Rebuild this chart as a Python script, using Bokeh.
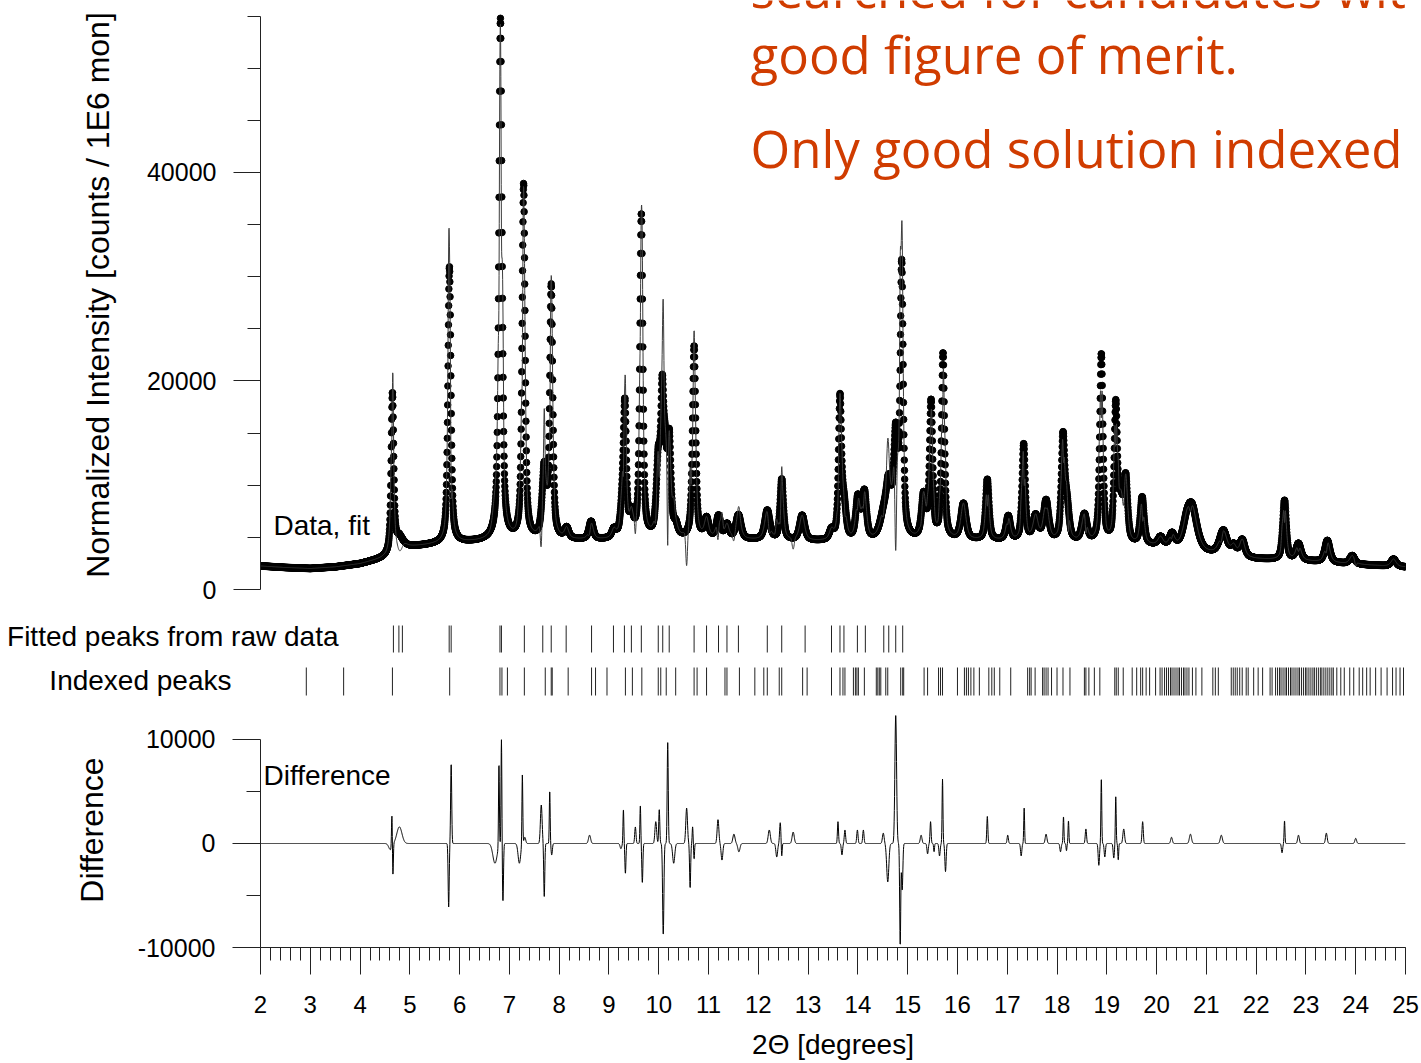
import numpy as np
from bokeh.plotting import figure
from bokeh.models import Range1d, FixedTicker, Label
from bokeh.layouts import column, row
from bokeh.embed import file_html
from bokeh.resources import INLINE

# ---------------- data ----------------
two_theta_start, two_theta_end, two_theta_step = 2.0, 25.0, 0.004

# background level (counts) under the pattern
bg_x = [2.0, 2.5, 3.0, 3.5, 4.0, 4.4, 4.6, 4.9, 5.5, 6.2, 6.6, 7.0, 8.0, 9.0, 10.0, 11.0,
        12.0, 13.0, 14.0, 15.0, 16.0, 17.0, 18.0, 19.0, 20.0, 20.5, 21.0, 22.0, 23.0, 24.0, 25.0]
bg_y = [2250, 2100, 2000, 2150, 2450, 2900, 3200, 4000, 4300, 4500, 4600, 4600, 4700, 4700, 4700, 4800,
        4700, 4600, 4500, 4600, 4700, 4600, 4500, 4300, 4100, 3800, 3400, 2900, 2700, 2400, 2150]

# observed reflections: position (deg), height above background, FWHM (deg)
peak_pos = [4.65, 4.78, 5.795, 6.82, 7.285, 7.70, 7.84, 8.15, 8.64, 9.10, 9.27, 9.32, 9.45, 9.65,
            9.99, 10.07, 10.13, 10.21, 10.34, 10.71, 10.96, 11.20, 11.37, 11.60, 12.18, 12.47,
            12.88, 13.47, 13.64, 13.72, 14.00, 14.13, 14.52, 14.62, 14.76, 14.88, 15.32, 15.47,
            15.71, 16.12, 16.60, 17.02, 17.33, 17.57, 17.78, 18.12, 18.20, 18.55, 18.89, 19.18,
            19.28, 19.38, 19.71, 20.08, 20.31, 20.60, 20.71, 21.34, 21.55, 21.72, 22.57, 22.85,
            23.43, 23.93, 24.76]
peak_height = [15200, 1200, 26500, 50000, 34000, 6500, 24000, 1000, 1700, 800, 2700, 12000, 2000, 31000,
               7000, 12400, 6500, 9000, 1000, 18400, 1800, 2100, 1300, 2300, 2800, 5800,
               2400, 900, 13300, 3200, 4000, 4500, 2200, 4500, 9500, 25800, 4000, 13000,
               17700, 3400, 5800, 2300, 9200, 2300, 3800, 9700, 3200, 2600, 18000, 13000,
               3500, 6000, 4500, 800, 1200, 1500, 4000, 2300, 900, 1600, 5700, 1600,
               2100, 800, 700]
peak_fwhm = [0.06, 0.18, 0.07, 0.075, 0.07, 0.1, 0.07, 0.1, 0.1, 0.1, 0.09, 0.07, 0.09, 0.07,
             0.09, 0.07, 0.075, 0.08, 0.1, 0.075, 0.1, 0.1, 0.1, 0.12, 0.12, 0.08,
             0.12, 0.1, 0.07, 0.1, 0.1, 0.1, 0.18, 0.12, 0.1, 0.07, 0.1, 0.075,
             0.07, 0.12, 0.08, 0.1, 0.075, 0.12, 0.12, 0.08, 0.1, 0.12, 0.075, 0.075,
             0.1, 0.09, 0.09, 0.12, 0.12, 0.18, 0.24, 0.18, 0.12, 0.12, 0.085, 0.12,
             0.12, 0.12, 0.12]

# difference (obs - calc) features: position, amplitude, FWHM
diff_pos = [4.61, 4.64, 4.66, 4.79, 5.78, 5.83, 6.71, 6.79, 6.84, 6.87, 7.20, 7.26, 7.31, 7.64,
            7.70, 7.81, 7.85, 8.61, 9.24, 9.29, 9.33, 9.53, 9.63, 9.67, 9.94, 10.01, 10.09,
            10.18, 10.30, 10.56, 10.63, 10.68, 10.71, 11.19, 11.27, 11.51, 11.61, 12.22, 12.37,
            12.44, 12.47, 12.70, 13.60, 13.68, 13.74, 13.99, 14.11, 14.51, 14.60, 14.76, 14.85,
            14.89, 15.27, 15.40, 15.46, 15.53, 15.64, 15.70, 15.76, 16.60, 17.01, 17.28, 17.34,
            17.78, 18.07, 18.13, 18.19, 18.23, 18.58, 18.84, 18.89, 18.96, 19.14, 19.18, 19.23,
            19.34, 19.72, 20.30, 20.68, 21.30, 22.52, 22.57, 22.85, 23.41, 24.00]
diff_amp = [-600, 3200, -3000, 1600, -6100, 7700, -1900, 8000, 10100, -5600, -1900, 6700, 600, 3700,
            -5100, 5100, -1100, 800, -500, 3300, -2900, 1600, 3700, -3800, 2100, 3300, -8800,
            9700, -1900, 3400, -4300, 1600, -1500, 2300, -1600, 900, -800, 1300, -1300,
            2000, -1300, 1100, 2100, -1100, 1300, 1300, 1300, 1000, -3700, 12300, -9800,
            -4500, 800, -1000, 2100, -800, -1200, 6200, -2700, 2600, 800, -1200, 3400,
            900, -800, 2600, -700, 2200, 1400, -2100, 6300, -1300, -1400, 4500, -1600,
            1400, 2100, 600, 900, 800, -900, 2200, 800, 1000, 500]
diff_fwhm = [0.08, 0.02, 0.02, 0.12, 0.025, 0.025, 0.1, 0.02, 0.02, 0.025, 0.06, 0.02, 0.04, 0.04,
             0.025, 0.02, 0.03, 0.05, 0.04, 0.02, 0.025, 0.03, 0.02, 0.025, 0.04, 0.025, 0.03,
             0.025, 0.05, 0.04, 0.025, 0.02, 0.02, 0.04, 0.04, 0.05, 0.05, 0.05, 0.04,
             0.03, 0.02, 0.05, 0.025, 0.03, 0.03, 0.03, 0.03, 0.04, 0.05, 0.04, 0.025,
             0.03, 0.04, 0.03, 0.025, 0.02, 0.03, 0.02, 0.03, 0.025, 0.03, 0.03, 0.02,
             0.04, 0.03, 0.02, 0.02, 0.02, 0.03, 0.03, 0.02, 0.03, 0.03, 0.02, 0.02,
             0.04, 0.03, 0.04, 0.05, 0.05, 0.03, 0.02, 0.04, 0.04, 0.04]

fitted_peaks = [4.67, 4.78, 4.85, 5.79, 5.83, 6.81, 6.84, 7.30, 7.67, 7.84, 8.14, 8.65, 9.09, 9.31,
                9.45, 9.65, 9.99, 10.08, 10.21, 10.71, 10.96, 11.20, 11.37, 11.60, 12.18, 12.47,
                12.94, 13.47, 13.64, 13.72, 13.99, 14.15, 14.52, 14.62, 14.76, 14.90]

indexed_peaks = [2.92, 3.67, 4.65, 5.80, 6.81, 6.85, 6.96, 7.30, 7.72, 7.84, 7.86, 8.18, 8.65, 8.73,
                 8.96, 9.33, 9.47, 9.66, 9.99, 10.04, 10.15, 10.34, 10.71, 10.77, 10.96, 11.33, 11.37,
                 11.62, 11.93, 12.11, 12.18, 12.42, 12.47, 12.89, 12.98, 13.47, 13.64, 13.70, 13.74,
                 13.91, 13.95, 13.98, 14.01, 14.13, 14.37, 14.40, 14.43, 14.46, 14.56, 14.60, 14.86,
                 14.90, 14.92, 15.33, 15.40, 15.62, 15.66, 15.70, 16.00, 16.14, 16.18, 16.22, 16.27,
                 16.33, 16.44, 16.63, 16.69, 16.74, 16.85, 17.07, 17.41, 17.45, 17.48, 17.56, 17.71,
                 17.74, 17.78, 17.82, 17.89, 18.00, 18.12, 18.26, 18.55, 18.58, 18.64, 18.75, 18.86,
                 19.16, 19.19, 19.23, 19.33, 19.51, 19.60, 19.68, 19.72, 19.79, 19.86, 19.98, 20.07,
                 20.11, 20.16, 20.20, 20.24, 20.28, 20.31, 20.35, 20.39, 20.43, 20.46, 20.50, 20.54,
                 20.57, 20.61, 20.65, 20.72, 20.79, 20.91, 21.13, 21.18, 21.24, 21.50, 21.54, 21.58,
                 21.62, 21.67, 21.72, 21.80, 21.84, 21.95, 22.04, 22.13, 22.28, 22.32, 22.39, 22.43,
                 22.47, 22.50, 22.54, 22.58, 22.61, 22.65, 22.69, 22.72, 22.76, 22.80, 22.84, 22.87,
                 22.91, 22.95, 22.99, 23.02, 23.06, 23.10, 23.14, 23.17, 23.21, 23.25, 23.29, 23.32,
                 23.36, 23.40, 23.44, 23.48, 23.52, 23.55, 23.62, 23.70, 23.77, 23.88, 23.96, 24.07,
                 24.14, 24.22, 24.29, 24.40, 24.51, 24.63, 24.74, 24.81, 24.89, 24.96]

x_ticks = list(range(2, 26))
intensity_ticks = [0, 20000, 40000]
diff_ticks = [-10000, 0, 10000]

note_lines = ["searched for candidates with", "good figure of merit.", "Only good solution indexed"]

# ---------------- build profiles ----------------
tt = np.round(np.arange(two_theta_start, two_theta_end + 1e-9, two_theta_step), 4)
bg = np.interp(tt, bg_x, bg_y)


def pseudo_voigt(x, x0, h, w, eta=0.6):
    d = ((x - x0) / w) ** 2
    return h * (eta / (1.0 + 4.0 * d) + (1.0 - eta) * np.exp(-4.0 * np.log(2.0) * d))


obs = bg.copy()
for p0, h0, w0 in zip(peak_pos, peak_height, peak_fwhm):
    obs += pseudo_voigt(tt, p0, h0, w0)

diff = np.zeros_like(tt)
for p0, a0, w0 in zip(diff_pos, diff_amp, diff_fwhm):
    diff += pseudo_voigt(tt, p0, a0, w0, eta=0.0)

calc = obs - diff

# ---------------- styling helpers ----------------
FONT = "Liberation Sans"
PX_PER_DEG = 1145.0 / 23.0
Y_PER_PX = 55000.0 / 573.5


def style_axis(ax):
    ax.axis_line_color = "#222222"
    ax.major_tick_line_color = "#222222"
    ax.minor_tick_line_color = "#222222"
    ax.major_tick_in = 0
    ax.minor_tick_in = 0
    ax.major_label_text_font = FONT
    ax.major_label_text_font_size = "25px"
    ax.major_label_text_color = "black"
    ax.axis_label_text_font = FONT
    ax.axis_label_text_font_style = "normal"
    ax.axis_label_text_color = "black"


# ---------------- top panel: data + fit ----------------
top = figure(width=1421, height=605, x_range=Range1d(2, 25),
             y_range=Range1d(0, 589 * Y_PER_PX),
             output_backend="svg", toolbar_location=None, x_axis_location=None,
             min_border_left=260, min_border_right=16, min_border_top=0, min_border_bottom=16)
top.outline_line_color = None
top.grid.visible = False

top.scatter(tt, obs, size=6.5, color="black")
top.line(tt, calc, line_color="#3c3c3c", line_width=1)

ya = top.yaxis[0]
style_axis(ya)
ya.ticker = FixedTicker(ticks=intensity_ticks, minor_ticks=list(range(5000, 55001, 5000)))
ya.bounds = (0, 55000)
ya.major_tick_out = 27
ya.minor_tick_out = 13
ya.major_label_standoff = 17
ya.axis_label = "Normalized Intensity [counts / 1E6 mon]"
ya.axis_label_text_font_size = "32px"
ya.axis_label_standoff = 28

top.add_layout(Label(x=2.26, y=6140, text="Data, fit", text_baseline="middle",
                     text_font=FONT, text_font_size="28px", text_color="black"))

note_y = [57650, 51400, 42300]
for txt, yy in zip(note_lines, note_y):
    top.add_layout(Label(x=11.843, y=yy, text=txt, text_baseline="alphabetic",
                         text_font="Open Sans", text_font_size="51px", text_color="#D03C00"))

# ---------------- middle strip: peak tick rows ----------------
mid = figure(width=1421, height=100,
             x_range=Range1d(2 - 260 / PX_PER_DEG, 25 + 16 / PX_PER_DEG), y_range=Range1d(0, 100),
             output_backend="svg", toolbar_location=None, x_axis_location=None, y_axis_location=None,
             min_border=0, min_border_left=0, min_border_right=0, min_border_top=0, min_border_bottom=0)
mid.outline_line_color = None
mid.grid.visible = False
mid.segment(x0=fitted_peaks, y0=[53] * len(fitted_peaks), x1=fitted_peaks, y1=[80] * len(fitted_peaks),
            line_color="#222222", line_width=1)
mid.segment(x0=indexed_peaks, y0=[10] * len(indexed_peaks), x1=indexed_peaks, y1=[38] * len(indexed_peaks),
            line_color="#222222", line_width=1)
mid.add_layout(Label(x=2 + 78 / PX_PER_DEG, y=69, text="Fitted peaks from raw data", text_align="right",
                     text_baseline="middle", text_font=FONT, text_font_size="28px", text_color="black"))
mid.add_layout(Label(x=2 - 29 / PX_PER_DEG, y=25, text="Indexed peaks", text_align="right",
                     text_baseline="middle", text_font=FONT, text_font_size="28px", text_color="black"))

# ---------------- bottom panel: difference ----------------
bot = figure(width=1421, height=358, x_range=Range1d(2, 25), y_range=Range1d(-10000, 12596),
             output_backend="svg", toolbar_location=None,
             min_border_left=260, min_border_right=16, min_border_top=7, min_border_bottom=116)
bot.outline_line_color = None
bot.grid.visible = False
bot.line(tt, diff, line_color="black", line_width=1)

by = bot.yaxis[0]
style_axis(by)
by.ticker = FixedTicker(ticks=diff_ticks, minor_ticks=[-5000, 5000])
by.bounds = (-10000, 10000)
by.major_tick_out = 28
by.minor_tick_out = 14
by.major_label_standoff = 17
by.major_label_overrides = {-10000: "-10000", 0: "0", 10000: "10000"}
by.axis_label = "Difference"
by.axis_label_text_font_size = "32px"
by.axis_label_standoff = 25

bx = bot.xaxis[0]
style_axis(bx)
bx.major_label_text_font_size = "24px"
bx.ticker = FixedTicker(ticks=x_ticks, minor_ticks=[round(2 + 0.2 * i, 2) for i in range(116)])
bx.bounds = (2, 25)
bx.major_tick_out = 27
bx.minor_tick_out = 13
bx.major_label_standoff = 21
bx.axis_label = "2\u0398 [degrees]"
bx.axis_label_text_font_size = "28px"
bx.axis_label_standoff = 13

bot.add_layout(Label(x=2 + 3 / PX_PER_DEG, y=6540, text="Difference", text_baseline="middle",
                     text_font=FONT, text_font_size="28px", text_color="black"))

layout = column(top, row(mid, spacing=0), bot, spacing=0)
open("out.html", "w").write(file_html(layout, INLINE))
